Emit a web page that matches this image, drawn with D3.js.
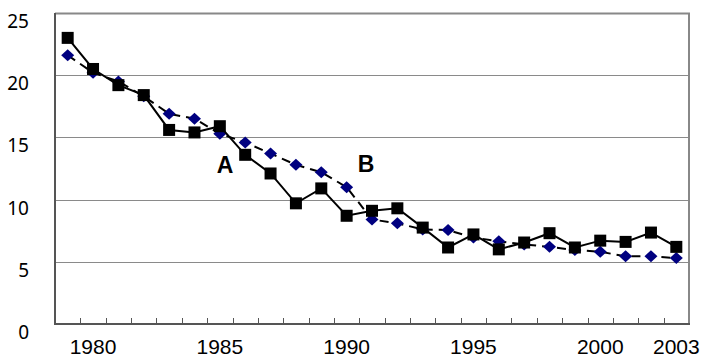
<!DOCTYPE html>
<html>
<head>
<meta charset="utf-8">
<script src="https://cdn.jsdelivr.net/npm/d3@7"></script>
<style>
  body { margin: 0; background: #fff; }
  svg { display: block; }
  .axis text { font-family: "Liberation Sans", Arial, sans-serif; fill: #000; }
  .yaxis text { font-family: "Noto Sans", "Open Sans", sans-serif; fill: #000; }
</style>
</head>
<body>
<svg width="720" height="362"></svg>
<script>
const years = d3.range(1979, 2004);
const seriesA = [23.0, 20.5, 19.2, 18.4, 15.6, 15.4, 15.9, 13.6, 12.1, 9.7, 10.9, 8.7, 9.1, 9.3, 7.75,
  6.15, 7.2, 6.0, 6.55, 7.3, 6.15, 6.7, 6.6, 7.35, 6.2];
const seriesB = [21.6, 20.2, 19.5, 18.3, 16.9, 16.5, 15.3, 14.6, 13.7, 12.8, 12.2, 11.0, 8.4, 8.1, 7.6,
  7.55, 6.95, 6.65, 6.4, 6.2, 5.95, 5.8, 5.45, 5.45, 5.3];
const yTicks = [0, 5, 10, 15, 20, 25];
const xLabels = [1980, 1985, 1990, 1995, 2000, 2003];

let plotLeft = 55, plotRight = 689, plotTop = 13, plotBottom = 324;
let svg = d3.select("svg");

let x = d3.scaleBand()
    .domain(years)
    .range([plotLeft, plotRight])
    .padding(0);

let y = d3.scaleLinear()
    .domain([0, 25])
    .range([plotBottom, plotTop]);

// gridlines
svg.append("g")
    .selectAll("line")
    .data(yTicks.filter(d => d > 0))
    .enter()
    .append("line")
    .attr("x1", plotLeft)
    .attr("x2", plotRight)
    .attr("y1", d => Math.round(y(d)) + 0.5)
    .attr("y2", d => Math.round(y(d)) + 0.5)
    .attr("stroke", "#8a8a8a")
    .attr("stroke-width", 1)

// frame on top and right
svg.append("path")
    .attr("d", `M${plotLeft},${plotTop + 0.5}H${plotRight}V${plotBottom}`)
    .attr("fill", "none")
    .attr("stroke", "#888")
    .attr("stroke-width", 2)

// y labels
svg.append("g")
    .attr("class", "yaxis")
    .selectAll("text")
    .data(yTicks)
    .enter()
    .append("text")
    .attr("x", 29)
    .attr("y", d => y(d) + 15)
    .attr("text-anchor", "end")
    .style("font-size", "19px")
    .text(d => d)

// x labels
let xAxis = d3.axisBottom(x)
    .tickValues(xLabels)
    .tickSize(0)
    .tickPadding(15);

svg.append("g")
    .attr("class", "axis")
    .attr("transform", `translate(0, ${plotBottom})`)
    .call(xAxis)
    .call(g => g.select(".domain").remove())
    .selectAll("text")
    .style("font-size", "21px")

// tick marks between years (pointing into the plot)
svg.append("g")
    .selectAll("line")
    .data(years.slice(1))
    .enter()
    .append("line")
    .attr("x1", d => Math.round(x(d)) + 0.5)
    .attr("x2", d => Math.round(x(d)) + 0.5)
    .attr("y1", plotBottom - 6)
    .attr("y2", plotBottom)
    .attr("stroke", "#555")
    .attr("stroke-width", 1)

// left & bottom axis lines
svg.append("path")
    .attr("d", `M${plotLeft},${plotTop}V${plotBottom}H${plotRight + 1}`)
    .attr("fill", "none")
    .attr("stroke", "#555")
    .attr("stroke-width", 2)

let cx = d => x(d) + x.bandwidth() / 2;

let line = d3.line()
    .x((d, i) => cx(years[i]))
    .y(d => y(d));

// series B: dashed line with navy diamonds
svg.append("path")
    .datum(seriesB)
    .attr("d", line)
    .attr("fill", "none")
    .attr("stroke", "#000")
    .attr("stroke-width", 2)
    .attr("stroke-dasharray", "9,6")

svg.append("g")
    .selectAll("path")
    .data(seriesB)
    .enter()
    .append("path")
    .attr("d", (d, i) => {
        let px = cx(years[i]), py = y(d);
        return `M${px},${py - 6}L${px + 6.5},${py}L${px},${py + 6}L${px - 6.5},${py}Z`;
    })
    .attr("fill", "#000080")

// series A: solid line with black squares
svg.append("path")
    .datum(seriesA)
    .attr("d", line)
    .attr("fill", "none")
    .attr("stroke", "#000")
    .attr("stroke-width", 2)

svg.append("g")
    .selectAll("rect")
    .data(seriesA)
    .enter()
    .append("rect")
    .attr("x", (d, i) => cx(years[i]) - 6)
    .attr("y", d => y(d) - 6)
    .attr("width", 12)
    .attr("height", 12)
    .attr("fill", "#000")

// annotations
svg.append("text")
    .attr("x", 225)
    .attr("y", 173)
    .attr("text-anchor", "middle")
    .style("font-family", "Liberation Sans, Arial, sans-serif")
    .style("font-weight", "bold")
    .style("font-size", "23px")
    .text("A")

svg.append("text")
    .attr("x", 366)
    .attr("y", 172)
    .attr("text-anchor", "middle")
    .style("font-family", "Liberation Sans, Arial, sans-serif")
    .style("font-weight", "bold")
    .style("font-size", "23px")
    .text("B")
</script>
</body>
</html>
